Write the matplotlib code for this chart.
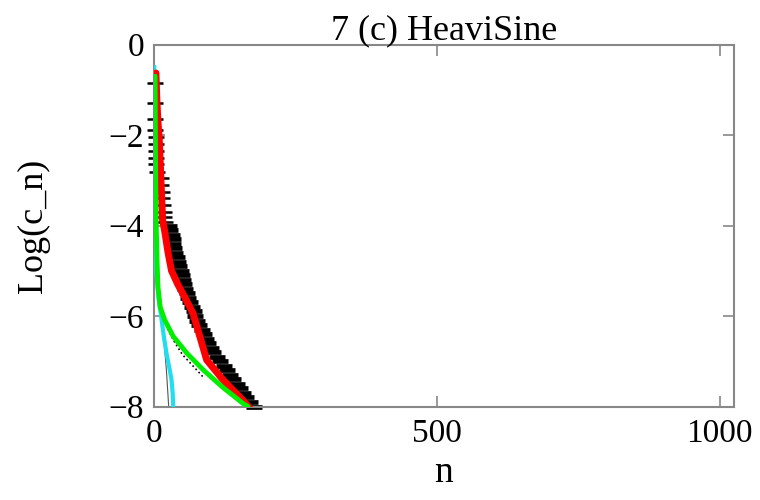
import numpy as np
import matplotlib.pyplot as plt

plt.rcParams["font.family"] = ["Liberation Serif", "DejaVu Serif"]

# black "+" style markers (main series)
black_n = [1, 2, 2, 2, 3, 3, 3, 4, 4, 5, 12, 13, 14, 15, 16, 17, 18, 20,
           27, 29, 31, 33, 34, 36, 38, 40, 43, 45, 47, 49, 51, 53, 55, 58,
           61, 64, 67, 70, 73, 76, 80, 84, 88, 92, 96, 100, 105, 111, 117,
           123, 129, 135, 140, 146, 152, 157, 163, 169, 176]
black_log = [-0.85, -1.29, -1.65, -1.89, -2.05, -2.2, -2.35, -2.5, -2.65,
             -2.82, -2.95, -3.1, -3.25, -3.4, -3.55, -3.7, -3.82, -3.92,
             -4.0, -4.1, -4.2, -4.3, -4.4, -4.5, -4.6, -4.7, -4.8, -4.9,
             -5.0, -5.1, -5.2, -5.3, -5.4, -5.5, -5.6, -5.7, -5.8, -5.9,
             -6.0, -6.1, -6.2, -6.3, -6.4, -6.5, -6.6, -6.7, -6.8, -6.9,
             -7.0, -7.1, -7.2, -7.3, -7.4, -7.5, -7.6, -7.7, -7.8, -7.9, -8.0]

# thin dotted black series
dot_n = [16, 25, 35, 50, 65, 87]
dot_log = [-6.02, -6.3, -6.55, -6.85, -7.05, -7.35]
gray_n = [15, 18, 22, 26]
gray_log = [-6.0, -6.6, -7.2, -8.0]

red_n = [3.5, 5, 7, 9.4, 12, 15.3, 19.4, 25, 31, 42, 55, 69, 81, 93, 122, 157, 175]
red_log = [-0.63, -1.2, -1.7, -2.11, -2.9, -3.88, -4.16, -4.61, -5.0, -5.3,
           -5.6, -5.94, -6.45, -6.97, -7.41, -7.86, -8.12]

green_n = [2, 2.5, 3, 4, 5.5, 7, 11, 19, 34, 58, 87, 120, 157, 166]
green_log = [-0.7, -2, -3, -4, -4.8, -5.35, -5.8, -6.09, -6.45, -6.82, -7.19,
             -7.56, -7.93, -8.0]

cyan_n = [0.5, 1, 2, 4, 8, 13.5, 18, 22, 28, 31, 33, 34]
cyan_log = [-0.5, -2, -4, -5, -5.6, -6.09, -6.5, -6.82, -7.2, -7.41, -7.7, -8.0]

fig = plt.figure(figsize=(7.6, 5), dpi=100)
ax = fig.add_axes([0.2026, 0.187, 0.7632, 0.724])

# sparse upper dashes thinner, dense lower band thicker
ax.plot(black_n[:18], black_log[:18], color="black", linestyle="none", marker="_",
        markersize=11, markeredgewidth=1.8, clip_on=False, zorder=2)
ax.plot(black_n[18:], black_log[18:], color="black", linestyle="none", marker="_",
        markersize=12, markeredgewidth=3.4, clip_on=False, zorder=2)
ax.plot(dot_n, dot_log, color="black", linestyle=":", linewidth=1.2, zorder=2)
ax.plot(gray_n, gray_log, color="#555555", linestyle="-", linewidth=0.8, zorder=2)
ax.plot(cyan_n, cyan_log, color="#22ddee", linewidth=3, zorder=3)
ax.plot(red_n, red_log, color="#ff0000", linewidth=5, zorder=4,
        solid_capstyle="round")
ax.plot(green_n, green_log, color="#00ee00", linewidth=3.5, zorder=5,
        solid_capstyle="round")

ax.set_xlim(0, 1025)
ax.set_ylim(-8, 0)
ax.set_xticks([0, 500, 1000])
ax.set_yticks([0, -2, -4, -6, -8])
ax.tick_params(direction="in", length=8, width=1.2, color="#888888",
               top=True, right=True, labelsize=24)
ax.tick_params(axis="x", pad=9)
ax.tick_params(axis="y", pad=7)
for s in ax.spines.values():
    s.set_color("#888888")
    s.set_linewidth(1.5)

ax.set_title("7 (c) HeaviSine", fontsize=26, pad=4)
ax.set_xlabel("n", fontsize=27, labelpad=4)
ax.set_ylabel("Log(c_n)", fontsize=26, labelpad=42)

fig.savefig("out.png", dpi=100)
